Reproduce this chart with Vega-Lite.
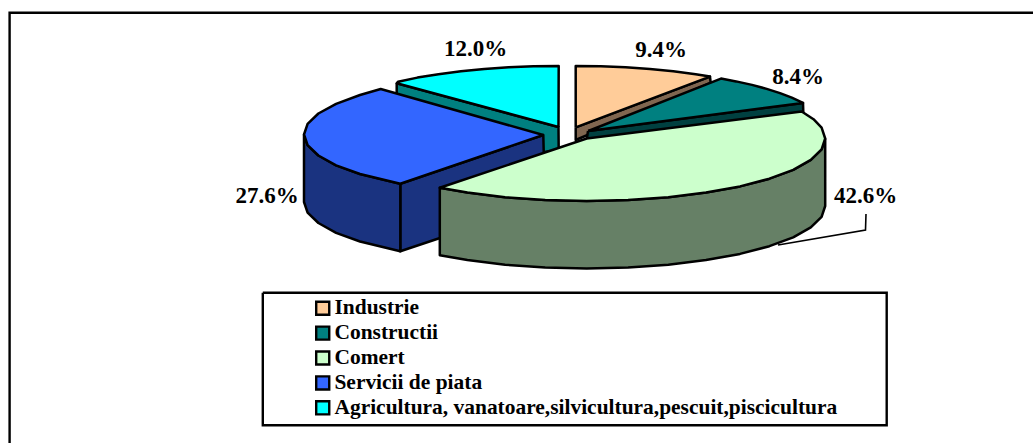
{"$schema":"https://vega.github.io/schema/vega-lite/v6.json","width":1033,"height":443,"autosize":{"type":"none"},"padding":0,"background":"white","config":{"view":{"stroke":null}},
"datasets":{
"sectors":[
{"sector":"Industrie","share":0.094,"lx":661,"ly":50},
{"sector":"Constructii","share":0.084,"lx":798,"ly":77},
{"sector":"Comert","share":0.426,"lx":865.5,"ly":196},
{"sector":"Servicii de piata","share":0.276,"lx":267,"ly":196},
{"sector":"Agricultura, vanatoare,silvicultura,pescuit,piscicultura","share":0.12,"lx":475.5,"ly":49}],
"frames":[
{"p":"frame","i":1,"x":9.6,"y":443},{"p":"frame","i":2,"x":9.6,"y":12.8},{"p":"frame","i":3,"x":1033,"y":12.8},
{"p":"box","i":1,"x":262.8,"y":292.8},{"p":"box","i":2,"x":886.7,"y":292.8},{"p":"box","i":3,"x":886.7,"y":425.2},{"p":"box","i":4,"x":262.8,"y":425.2},{"p":"box","i":5,"x":262.8,"y":292.8}],
"leader":[{"i":1,"x":866,"y":214},{"i":2,"x":865.5,"y":230},{"i":3,"x":778,"y":245}],
"faces":[
{"p":"Agricultura side","i":1,"x":396.7,"y":83.3},{"p":"Agricultura side","i":2,"x":396.7,"y":110},{"p":"Agricultura side","i":3,"x":545,"y":152},{"p":"Agricultura side","i":4,"x":558.7,"y":150},{"p":"Agricultura side","i":5,"x":558.5,"y":127},{"p":"Agricultura side","i":6,"x":396.7,"y":83.3},
{"p":"Agricultura top","i":1,"x":558.5,"y":127},{"p":"Agricultura top","i":2,"x":558.7,"y":66},{"p":"Agricultura top","i":3,"x":533.4,"y":66.3},{"p":"Agricultura top","i":4,"x":508.6,"y":67.3},{"p":"Agricultura top","i":5,"x":484.3,"y":69},{"p":"Agricultura top","i":6,"x":460.9,"y":71.3},{"p":"Agricultura top","i":7,"x":438.5,"y":74.2},{"p":"Agricultura top","i":8,"x":417.4,"y":77.6},{"p":"Agricultura top","i":9,"x":398,"y":81.7},{"p":"Agricultura top","i":10,"x":396.7,"y":83.3},{"p":"Agricultura top","i":11,"x":558.5,"y":127},
{"p":"Servicii wall","i":1,"x":400.3,"y":183.8},{"p":"Servicii wall","i":2,"x":543.3,"y":135},{"p":"Servicii wall","i":3,"x":545,"y":203},{"p":"Servicii wall","i":4,"x":400.3,"y":251.3},{"p":"Servicii wall","i":5,"x":400.3,"y":183.8},
{"p":"Servicii side","i":1,"x":304,"y":134.5},{"p":"Servicii side","i":2,"x":307.6,"y":145.2},{"p":"Servicii side","i":3,"x":318.4,"y":155.5},{"p":"Servicii side","i":4,"x":336.1,"y":165.3},{"p":"Servicii side","i":5,"x":360,"y":174},{"p":"Servicii side","i":6,"x":400.3,"y":183.8},{"p":"Servicii side","i":7,"x":400.3,"y":251.3},{"p":"Servicii side","i":8,"x":360,"y":241.5},{"p":"Servicii side","i":9,"x":336.1,"y":232.8},{"p":"Servicii side","i":10,"x":318.4,"y":223},{"p":"Servicii side","i":11,"x":307.6,"y":212.7},{"p":"Servicii side","i":12,"x":304,"y":202},{"p":"Servicii side","i":13,"x":304,"y":134.5},
{"p":"Servicii top","i":1,"x":543.3,"y":135},{"p":"Servicii top","i":2,"x":380.7,"y":89},{"p":"Servicii top","i":3,"x":360,"y":95},{"p":"Servicii top","i":4,"x":336.1,"y":103.8},{"p":"Servicii top","i":5,"x":318.4,"y":113.5},{"p":"Servicii top","i":6,"x":307.6,"y":123.8},{"p":"Servicii top","i":7,"x":304,"y":134.5},{"p":"Servicii top","i":8,"x":307.6,"y":145.2},{"p":"Servicii top","i":9,"x":318.4,"y":155.5},{"p":"Servicii top","i":10,"x":336.1,"y":165.3},{"p":"Servicii top","i":11,"x":360,"y":174},{"p":"Servicii top","i":12,"x":400.3,"y":183.8},{"p":"Servicii top","i":13,"x":543.3,"y":135},
{"p":"Industrie side","i":1,"x":575.7,"y":127.3},{"p":"Industrie side","i":2,"x":710,"y":76.6},{"p":"Industrie side","i":3,"x":710.7,"y":83},{"p":"Industrie side","i":4,"x":575.7,"y":140},{"p":"Industrie side","i":5,"x":575.7,"y":127.3},
{"p":"Industrie top","i":1,"x":575.7,"y":127.3},{"p":"Industrie top","i":2,"x":575.7,"y":66},{"p":"Industrie top","i":3,"x":600.8,"y":66.3},{"p":"Industrie top","i":4,"x":625.6,"y":67.3},{"p":"Industrie top","i":5,"x":649.9,"y":69},{"p":"Industrie top","i":6,"x":673.3,"y":71.3},{"p":"Industrie top","i":7,"x":695.7,"y":74.2},{"p":"Industrie top","i":8,"x":710,"y":76.6},{"p":"Industrie top","i":9,"x":575.7,"y":127.3},
{"p":"Constructii side","i":1,"x":588,"y":131},{"p":"Constructii side","i":2,"x":803,"y":102.9},{"p":"Constructii side","i":3,"x":803.3,"y":112},{"p":"Constructii side","i":4,"x":586.7,"y":140},{"p":"Constructii side","i":5,"x":588,"y":131},
{"p":"Constructii top","i":1,"x":588.3,"y":131},{"p":"Constructii top","i":2,"x":721,"y":78.6},{"p":"Constructii top","i":3,"x":736.1,"y":81.4},{"p":"Constructii top","i":4,"x":752,"y":84.9},{"p":"Constructii top","i":5,"x":766.7,"y":88.9},{"p":"Constructii top","i":6,"x":780,"y":93.1},{"p":"Constructii top","i":7,"x":791.8,"y":97.6},{"p":"Constructii top","i":8,"x":803,"y":102.9},{"p":"Constructii top","i":9,"x":588.3,"y":131},
{"p":"Comert side","i":1,"x":825.2,"y":138.5},{"p":"Comert side","i":2,"x":821.6,"y":149.4},{"p":"Comert side","i":3,"x":810.8,"y":159.9},{"p":"Comert side","i":4,"x":793.2,"y":169.8},{"p":"Comert side","i":5,"x":769.4,"y":178.7},{"p":"Comert side","i":6,"x":740,"y":186.4},{"p":"Comert side","i":7,"x":706,"y":192.6},{"p":"Comert side","i":8,"x":668.3,"y":197.2},{"p":"Comert side","i":9,"x":628.1,"y":200.1},{"p":"Comert side","i":10,"x":586.7,"y":201},{"p":"Comert side","i":11,"x":545.2,"y":200.1},{"p":"Comert side","i":12,"x":505.1,"y":197.2},{"p":"Comert side","i":13,"x":467.4,"y":192.6},{"p":"Comert side","i":14,"x":439.8,"y":187.8},{"p":"Comert side","i":15,"x":439.8,"y":255.3},{"p":"Comert side","i":16,"x":467.4,"y":260.1},{"p":"Comert side","i":17,"x":505.1,"y":264.7},{"p":"Comert side","i":18,"x":545.2,"y":267.6},{"p":"Comert side","i":19,"x":586.7,"y":268.5},{"p":"Comert side","i":20,"x":628.1,"y":267.6},{"p":"Comert side","i":21,"x":668.3,"y":264.7},{"p":"Comert side","i":22,"x":706,"y":260.1},{"p":"Comert side","i":23,"x":740,"y":253.9},{"p":"Comert side","i":24,"x":769.4,"y":246.2},{"p":"Comert side","i":25,"x":793.2,"y":237.3},{"p":"Comert side","i":26,"x":810.8,"y":227.4},{"p":"Comert side","i":27,"x":821.6,"y":216.9},{"p":"Comert side","i":28,"x":825.2,"y":206},{"p":"Comert side","i":29,"x":825.2,"y":138.5},
{"p":"Comert top","i":1,"x":586.7,"y":138.5},{"p":"Comert top","i":2,"x":801.7,"y":111.5},{"p":"Comert top","i":3,"x":813.5,"y":119.2},{"p":"Comert top","i":4,"x":821.6,"y":127.6},{"p":"Comert top","i":5,"x":825.2,"y":138.5},{"p":"Comert top","i":6,"x":821.6,"y":149.4},{"p":"Comert top","i":7,"x":810.8,"y":159.9},{"p":"Comert top","i":8,"x":793.2,"y":169.8},{"p":"Comert top","i":9,"x":769.4,"y":178.7},{"p":"Comert top","i":10,"x":740,"y":186.4},{"p":"Comert top","i":11,"x":706,"y":192.6},{"p":"Comert top","i":12,"x":668.3,"y":197.2},{"p":"Comert top","i":13,"x":628.1,"y":200.1},{"p":"Comert top","i":14,"x":586.7,"y":201},{"p":"Comert top","i":15,"x":545.2,"y":200.1},{"p":"Comert top","i":16,"x":505.1,"y":197.2},{"p":"Comert top","i":17,"x":467.4,"y":192.6},{"p":"Comert top","i":18,"x":439.8,"y":187.8},{"p":"Comert top","i":19,"x":586.7,"y":138.5}
]},
"layer":[
{"data":{"name":"frames"},"mark":{"type":"line","stroke":"black","strokeWidth":2.4,"strokeJoin":"miter"},"encoding":{"x":{"field":"x","type":"quantitative","scale":{"domain":[0,1033],"nice":false},"axis":null},"y":{"field":"y","type":"quantitative","scale":{"domain":[443,0],"nice":false},"axis":null},"order":{"field":"i"},"detail":{"field":"p"}}},
{"data":{"name":"leader"},"mark":{"type":"line","stroke":"black","strokeWidth":1.6},"encoding":{"x":{"field":"x","type":"quantitative"},"y":{"field":"y","type":"quantitative"},"order":{"field":"i"}}},
{"data":{"name":"faces"},"mark":{"type":"line","stroke":"black","strokeWidth":2.5,"strokeJoin":"round"},"encoding":{"x":{"field":"x","type":"quantitative"},"y":{"field":"y","type":"quantitative"},"order":{"field":"i"},"detail":{"field":"p"},"fill":{"field":"p","type":"nominal","legend":null,"scale":{"domain":["Industrie top","Industrie side","Constructii top","Constructii side","Comert top","Comert side","Servicii top","Servicii side","Servicii wall","Agricultura top","Agricultura side"],"range":["#FFCC99","#806650","#008080","#004040","#CCFFCC","#668066","#3366FF","#1A3380","#1A3380","#00FFFF","#008080"]}}}},
{"data":{"name":"sectors"},"mark":{"type":"text","font":"Liberation Serif","fontWeight":"bold","fontSize":23,"color":"black","align":"center","baseline":"middle"},"encoding":{"x":{"field":"lx","type":"quantitative"},"y":{"field":"ly","type":"quantitative"},"text":{"field":"share","type":"quantitative","format":".1%"}}},
{"data":{"name":"sectors"},"mark":{"type":"square","size":0,"opacity":0},"encoding":{"color":{"field":"sector","type":"nominal","scale":{"domain":["Industrie","Constructii","Comert","Servicii de piata","Agricultura, vanatoare,silvicultura,pescuit,piscicultura"],"range":["#FFCC99","#008080","#CCFFCC","#3366FF","#00FFFF"]},"legend":{"title":null,"orient":"none","legendX":312,"legendY":297.5,"symbolType":"square","symbolSize":170,"symbolOpacity":1,"symbolStrokeColor":"black","symbolStrokeWidth":2.4,"labelFont":"Liberation Serif","labelFontWeight":"bold","labelFontSize":21.45,"labelColor":"black","labelLimit":700,"labelOffset":1,"rowPadding":0.9,"padding":0,"zindex":1}}}}
]}
